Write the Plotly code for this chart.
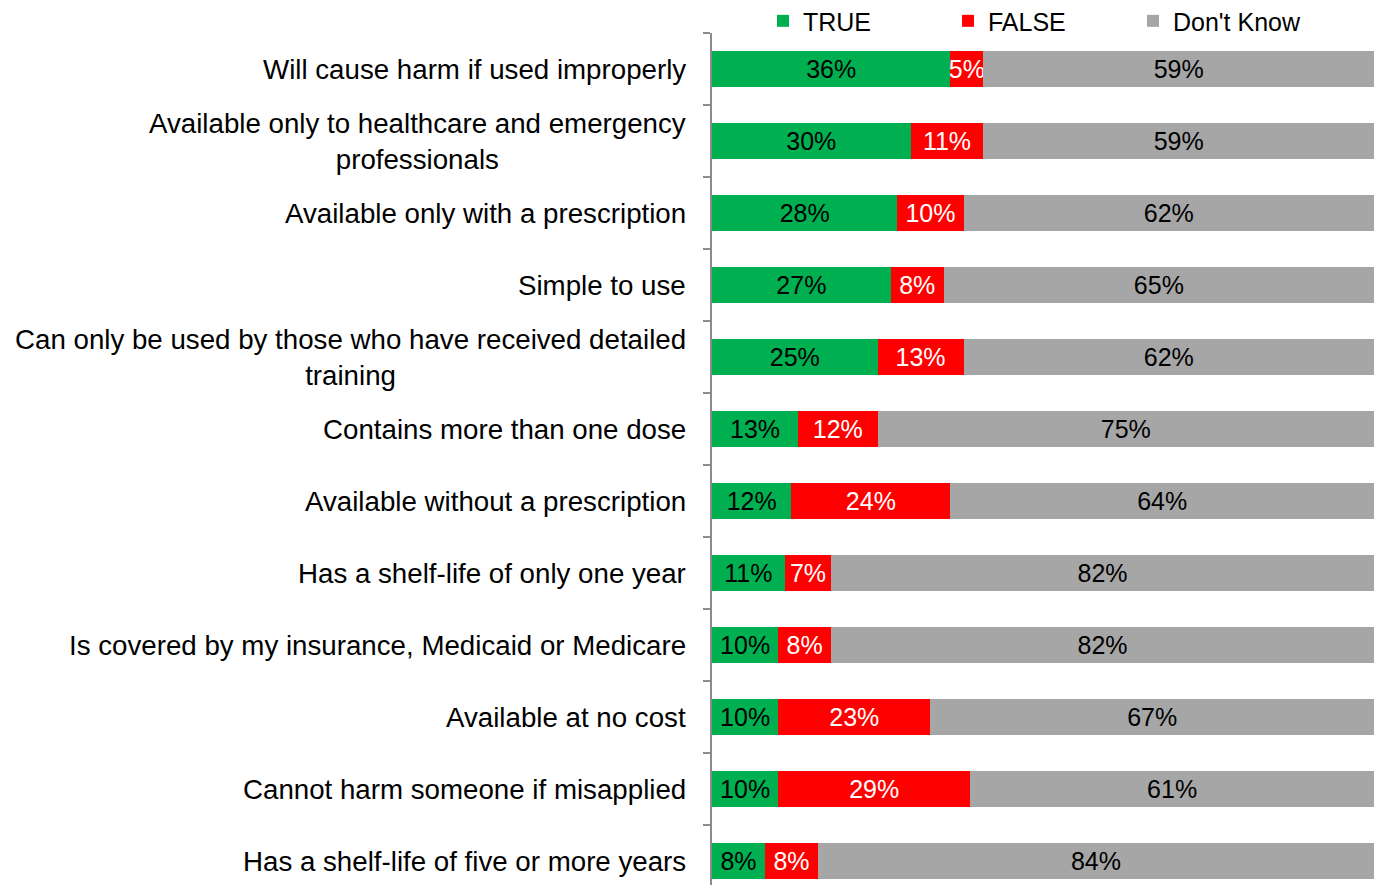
import plotly.graph_objects as go

categories = [
    "Will cause harm if used improperly",
    "Available only to healthcare and emergency<br>professionals",
    "Available only with a prescription",
    "Simple to use",
    "Can only be used by those who have received detailed<br>training",
    "Contains more than one dose",
    "Available without a prescription",
    "Has a shelf-life of only one year",
    "Is covered by my insurance, Medicaid or Medicare",
    "Available at no cost",
    "Cannot harm someone if misapplied",
    "Has a shelf-life of five or more years",
]
true_vals = [36, 30, 28, 27, 25, 13, 12, 11, 10, 10, 10, 8]
false_vals = [5, 11, 10, 8, 13, 12, 24, 7, 8, 23, 29, 8]
dk_vals = [59, 59, 62, 65, 62, 75, 64, 82, 82, 67, 61, 84]

FONT = "Liberation Sans, Arial, sans-serif"

fig = go.Figure()
for name, vals, color, txtcolor in [
    ("TRUE", true_vals, "#00B050", "black"),
    ("FALSE", false_vals, "#FF0000", "white"),
    ("Don't Know", dk_vals, "#A6A6A6", "black"),
]:
    fig.add_trace(go.Bar(
        y=categories,
        x=vals,
        name=name,
        orientation="h",
        marker=dict(color=color, line=dict(width=0)),
        text=[f"{v}%" for v in vals],
        textposition="inside",
        insidetextanchor="middle",
        constraintext="none",
        textangle=0,
        textfont=dict(color=txtcolor, size=25, family=FONT),
        hoverinfo="skip",
    ))

# category labels as annotations so wrapped lines are centred
for c in categories:
    fig.add_annotation(
        x=0, xref="paper", y=c, yref="y",
        text=c, showarrow=False,
        xanchor="right", xshift=-24, align="center",
        font=dict(size=27.7, color="black", family=FONT),
    )

# page body has an 8px margin, so the figure is sized to fit inside it
fig.update_layout(
    barmode="stack",
    bargap=0.5,
    width=1366,
    height=877,
    plot_bgcolor="white",
    paper_bgcolor="white",
    margin=dict(l=704, r=0, t=25, b=0, autoexpand=False),
    font=dict(family=FONT, color="black"),
    showlegend=True,
    legend=dict(
        orientation="h",
        x=0.077, xanchor="left",
        yref="paper", y=1.041, yanchor="top",
        font=dict(size=25, family=FONT),
        entrywidth=140,
        itemwidth=30,
        traceorder="normal",
        bgcolor="rgba(0,0,0,0)",
    ),
    xaxis=dict(range=[0, 100], visible=False, fixedrange=True),
    yaxis=dict(
        range=[11.333, -0.5],
        showticklabels=False,
        automargin=False,
        showline=True,
        linecolor="#8C8C8C",
        linewidth=1.5,
        ticks="outside",
        ticklen=7,
        tickcolor="#8C8C8C",
        tickwidth=1.5,
        tickson="boundaries",
        showgrid=False,
    ),
)

fig.write_html("out.html")
